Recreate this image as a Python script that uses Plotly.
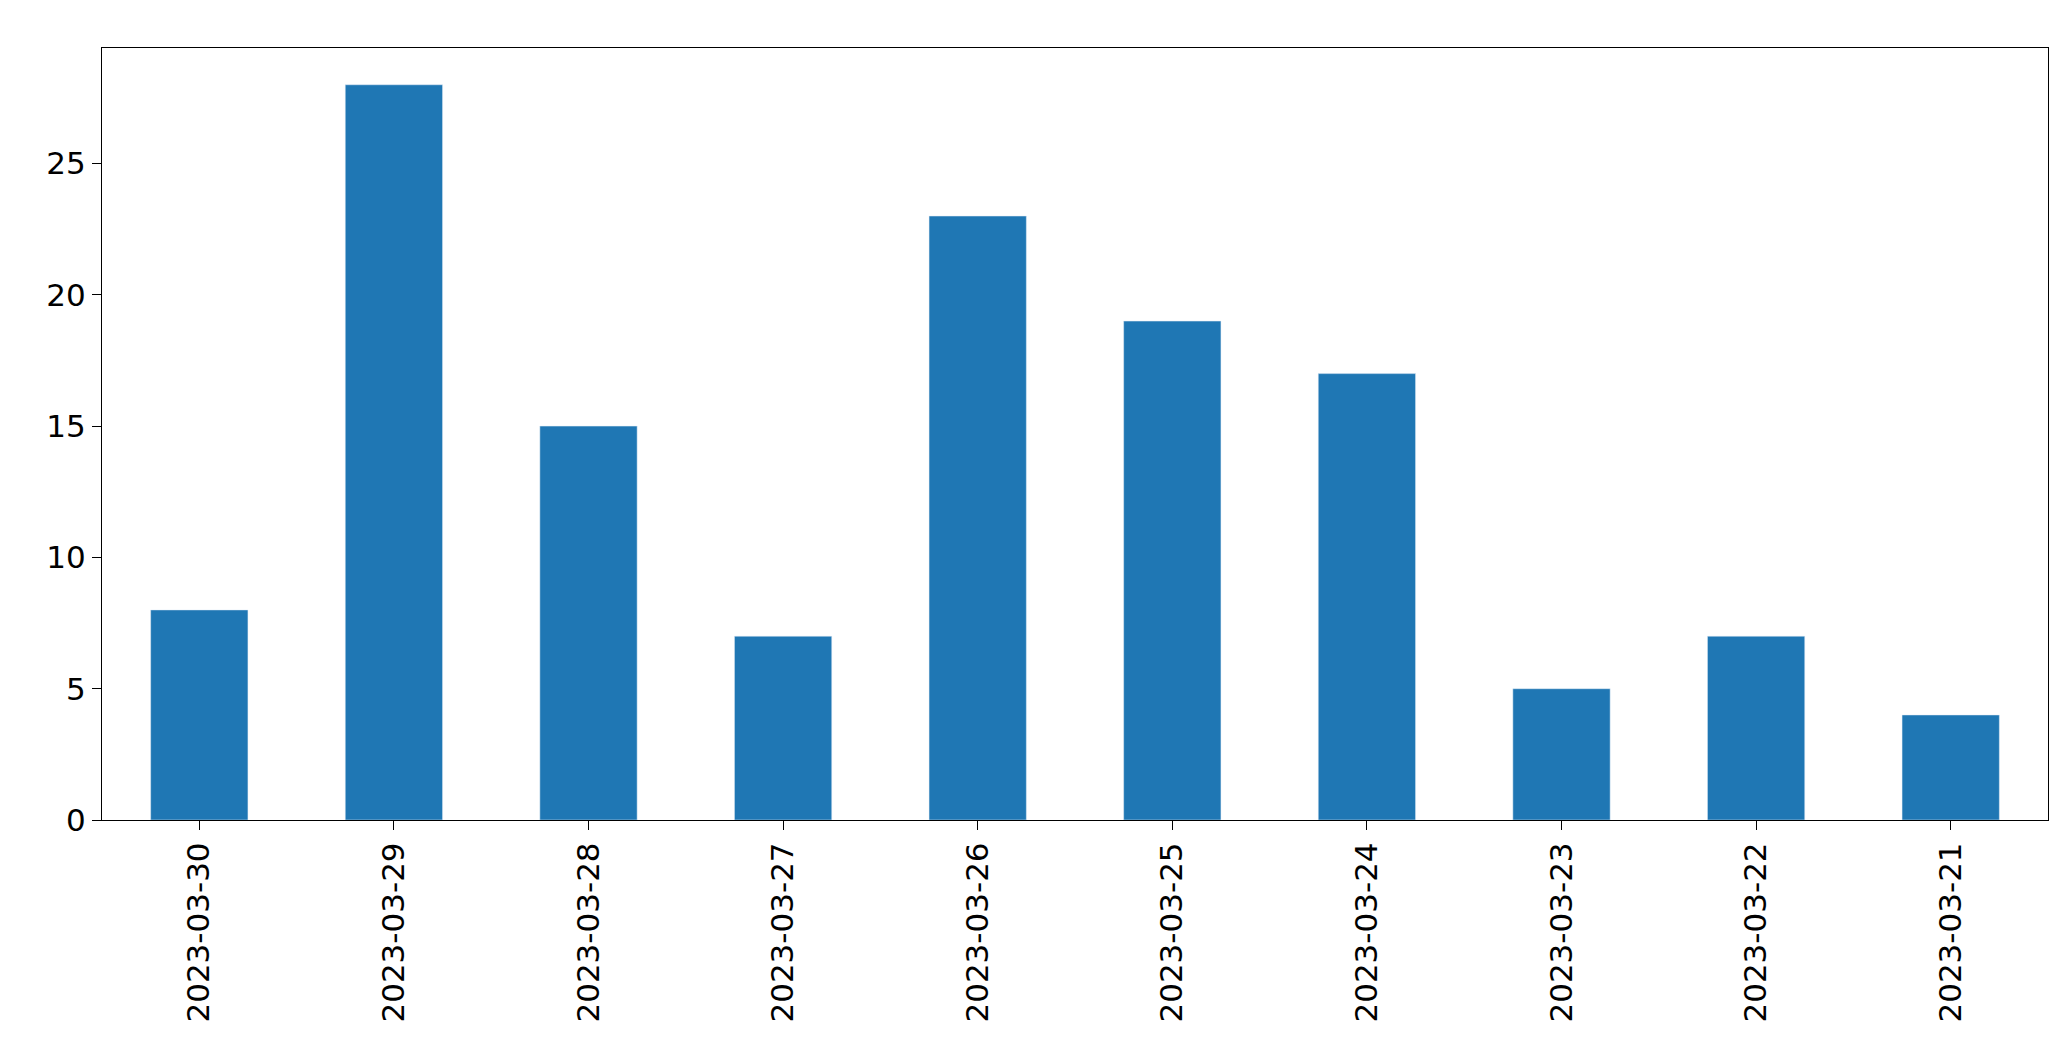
import plotly.graph_objects as go

dates = ["2023-03-30","2023-03-29","2023-03-28","2023-03-27","2023-03-26",
         "2023-03-25","2023-03-24","2023-03-23","2023-03-22","2023-03-21"]
counts = [8, 28, 15, 7, 23, 19, 17, 5, 7, 4]

fig = go.Figure(go.Bar(x=dates, y=counts, marker_color="#1f77b4", width=0.5))
fig.update_layout(
    width=2071, height=1061, plot_bgcolor="white", paper_bgcolor="white",
    margin=dict(l=94, r=31, t=40, b=249), showlegend=False,
    font=dict(family="DejaVu Sans", size=31, color="black"),
)
fig.update_xaxes(type="category", range=[-0.5, 9.5], tickangle=-90, showline=True,
                 linecolor="black", mirror=True, ticks="outside", ticklen=9,
                 tickcolor="black", showgrid=False)
fig.update_yaxes(range=[0, 29.4], tickvals=[0,5,10,15,20,25], showline=True,
                 linecolor="black", mirror=True, ticks="outside", ticklen=9,
                 tickcolor="black", showgrid=False, zeroline=False)
fig.write_html("out.html")
